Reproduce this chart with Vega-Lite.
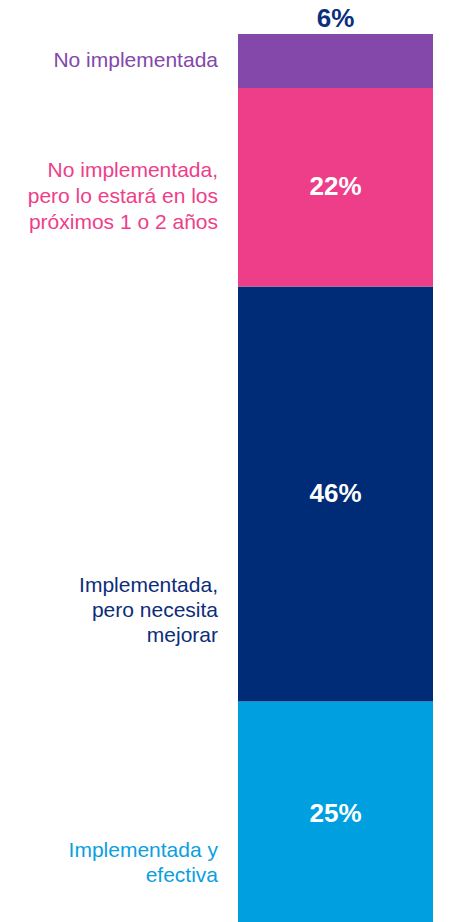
{
  "$schema": "https://vega.github.io/schema/vega-lite/v6.json",
  "width": 195,
  "height": 888,
  "autosize": {"type": "none"},
  "padding": {"left": 238, "top": 34, "right": 41, "bottom": 0},
  "background": "white",
  "config": {"view": {"stroke": null}, "font": "Liberation Sans"},
  "data": {
    "values": [
      {"grupo": "Total", "categoria": "Implementada y\nefectiva", "valor": 25, "orden": 1, "etiqueta": "25%"},
      {"grupo": "Total", "categoria": "Implementada,\npero necesita\nmejorar", "valor": 46, "orden": 2, "etiqueta": "46%"},
      {"grupo": "Total", "categoria": "No implementada,\npero lo estará en los\npróximos 1 o 2 años", "valor": 22, "orden": 3, "etiqueta": "22%"},
      {"grupo": "Total", "categoria": "No implementada", "valor": 6, "orden": 4, "etiqueta": "6%"}
    ]
  },
  "transform": [
    {"stack": "valor", "groupby": ["grupo"], "sort": [{"field": "orden", "order": "ascending"}], "as": ["v0", "v1"]},
    {"calculate": "(datum.v0 + datum.v1) / 2", "as": "vmid"}
  ],
  "encoding": {
    "x": {"field": "grupo", "type": "nominal", "axis": null, "scale": {"paddingInner": 0, "paddingOuter": 0}}
  },
  "layer": [
    {
      "mark": {"type": "bar", "clip": true},
      "encoding": {
        "y": {"field": "v0", "type": "quantitative", "axis": null, "scale": {"domain": [0.55, 99], "nice": false, "zero": false}},
        "y2": {"field": "v1"},
        "color": {
          "field": "orden", "type": "ordinal", "legend": null,
          "scale": {"domain": [1, 2, 3, 4], "range": ["#009FE0", "#002C77", "#EE3E8A", "#8348AA"]}
        }
      }
    },
    {
      "transform": [{"filter": "datum.orden < 4"}],
      "mark": {"type": "text", "fontSize": 26, "fontWeight": "bold", "color": "white", "baseline": "middle", "align": "center"},
      "encoding": {
        "x": {"field": "grupo", "type": "nominal", "bandPosition": 0.5},
        "y": {"field": "vmid", "type": "quantitative"},
        "text": {"field": "etiqueta"}
      }
    },
    {
      "transform": [{"filter": "datum.orden == 4"}],
      "mark": {"type": "text", "fontSize": 26, "fontWeight": "bold", "color": "#0B2F7E", "baseline": "alphabetic", "align": "center", "dy": -7},
      "encoding": {
        "x": {"field": "grupo", "type": "nominal", "bandPosition": 0.5},
        "y": {"field": "v1", "type": "quantitative"},
        "text": {"field": "etiqueta"}
      }
    },
    {
      "transform": [{"filter": "datum.orden == 4"}],
      "mark": {"type": "text", "fontSize": 21, "color": "#8348AA", "baseline": "alphabetic", "align": "right", "dx": -20, "dy": 6, "lineBreak": "\n", "lineHeight": 26},
      "encoding": {
        "x": {"field": "grupo", "type": "nominal", "bandPosition": 0},
        "y": {"field": "vmid", "type": "quantitative"},
        "text": {"field": "categoria"}
      }
    },
    {
      "transform": [{"filter": "datum.orden == 3"}],
      "mark": {"type": "text", "fontSize": 21, "color": "#EE3E8A", "baseline": "alphabetic", "align": "right", "dx": -20, "dy": -10, "lineBreak": "\n", "lineHeight": 26},
      "encoding": {
        "x": {"field": "grupo", "type": "nominal", "bandPosition": 0},
        "y": {"field": "vmid", "type": "quantitative"},
        "text": {"field": "categoria"}
      }
    },
    {
      "transform": [{"filter": "datum.orden == 2"}],
      "mark": {"type": "text", "fontSize": 21, "color": "#0C2D7A", "baseline": "alphabetic", "align": "right", "dx": -20, "dy": 98, "lineBreak": "\n", "lineHeight": 25},
      "encoding": {
        "x": {"field": "grupo", "type": "nominal", "bandPosition": 0},
        "y": {"field": "vmid", "type": "quantitative"},
        "text": {"field": "categoria"}
      }
    },
    {
      "transform": [{"filter": "datum.orden == 1"}],
      "mark": {"type": "text", "fontSize": 21, "color": "#0AA0E0", "baseline": "alphabetic", "align": "right", "dx": -20, "dy": 43, "lineBreak": "\n", "lineHeight": 25},
      "encoding": {
        "x": {"field": "grupo", "type": "nominal", "bandPosition": 0},
        "y": {"field": "vmid", "type": "quantitative"},
        "text": {"field": "categoria"}
      }
    }
  ]
}
